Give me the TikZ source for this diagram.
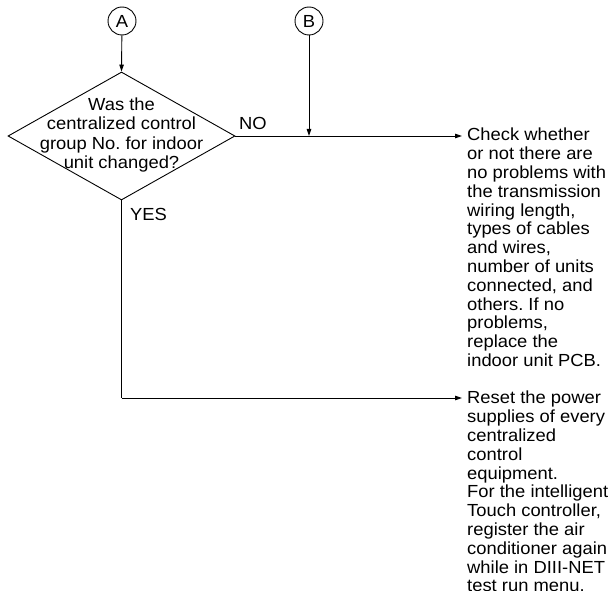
\documentclass[tikz,border=0pt]{standalone}
\usepackage{fontspec}
\setmainfont{Liberation Sans}[FakeStretch=1.05]
\usepackage{tikz}
\usetikzlibrary{arrows.meta,positioning,shapes.geometric}
\frenchspacing

\begin{document}
\begin{tikzpicture}[x=1pt,y=-1pt,
    conn/.style={draw,circle,line width=0.9pt,minimum size=28pt,inner sep=0pt,
                 font=\fontsize{17.5}{18}\selectfont},
    decision/.style={draw,diamond,line width=0.9pt,minimum width=227pt,
                 minimum height=128pt,inner sep=0pt},
    qtext/.style={align=center,inner sep=0pt,font=\fontsize{17.5}{19.3}\selectfont},
    note/.style={align=left,inner sep=0pt,anchor=north west,
                 font=\fontsize{17.5}{18.8}\selectfont},
    lbl/.style={inner sep=0pt,anchor=base west,font=\fontsize{17.5}{18}\selectfont},
    arr/.style={-{Triangle[length=7pt,width=4.5pt]},line width=0.9pt},
    ln/.style={line width=0.9pt}
  ]
  \useasboundingbox (0,0) rectangle (613,591);
  % connectors
  \node[conn] (A) at (122,21) {A};
  \node[conn] (B) at (309,21) {B};
  % question
  \node[decision] (q) at (121.5,136) {};
  \node[qtext] (qt) at (121.5,135) {Was the\\centralized control\\group No. for indoor\\unit changed?};
  \node[lbl] (no) at (239,130) {NO};
  \node[lbl] (yes) at (130,220) {YES};
  % results
  \node[note] (chk) at (467,128) {Check whether\\or not there are\\no problems with\\the transmission\\wiring length,\\types of cables\\and wires,\\number of units\\connected, and\\others. If no\\problems,\\replace the\\indoor unit PCB.};
  \node[note] (rst) at (467,391) {Reset the power\\supplies of every\\centralized\\control\\equipment.\\For the intelligent\\Touch controller,\\register the air\\conditioner again\\while in DIII-NET\\test run menu.};
  \coordinate (bj) at (309,136);
  \coordinate (yc) at (121.5,398);
  % arrows
  \draw[arr] (A) -- (q.north);
  \draw[arr] (B) -- (bj);
  \draw[arr] (q.east) -- (462,136);
  \draw[ln] (q.south) -- (yc);
  \draw[arr] (yc) -- (462,398);
\end{tikzpicture}
\end{document}
